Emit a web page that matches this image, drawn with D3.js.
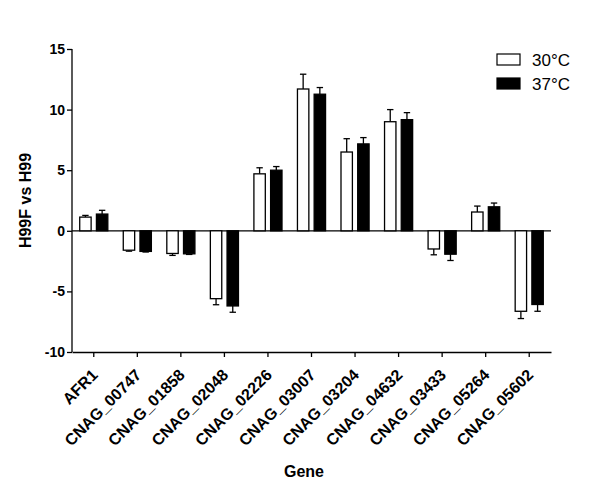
<!DOCTYPE html>
<html>
<head>
<meta charset="utf-8">
<script src="https://cdn.jsdelivr.net/npm/d3@7"></script>
<style>
  body { margin: 0; background: #fff; }
  text { font-family: "Liberation Sans", Arial, sans-serif; }
  .axis text { font-weight: bold; font-size: 14px; fill: #000; }
  .axis path, .axis line { stroke: #000; stroke-width: 1.3px; }
  .title { font-weight: bold; font-size: 16px; }
</style>
</head>
<body>
<div id="chart"></div>
<script>
var genes = ["AFR1", "CNAG_00747", "CNAG_01858", "CNAG_02048", "CNAG_02226", "CNAG_03007",
             "CNAG_03204", "CNAG_04632", "CNAG_03433", "CNAG_05264", "CNAG_05602"];
var series = ["30°C", "37°C"];
var mean30 = [1.13, -1.6, -1.87, -5.6, 4.7, 11.7, 6.5, 9.0, -1.5, 1.55, -6.64];
var err30  = [0.14, 0.08, 0.16, 0.5, 0.5, 1.22, 1.1, 1.0, 0.48, 0.49, 0.6];
var mean37 = [1.38, -1.7, -1.9, -6.2, 5.0, 11.27, 7.17, 9.17, -1.93, 1.98, -6.08];
var err37  = [0.31, 0.05, 0.05, 0.52, 0.3, 0.55, 0.52, 0.58, 0.52, 0.31, 0.56];
var yTicks = [-10, -5, 0, 5, 10, 15];

var width = 600, height = 496;
var margin = {top: 49, right: 49, bottom: 144, left: 72};

var svg = d3.select("#chart")
    .append("svg")
    .attr("width", width)
    .attr("height", height);

var x = d3.scaleBand()
    .domain(genes)
    .range([margin.left, width - margin.right]);

var y = d3.scaleLinear()
    .domain([-10, 15])
    .range([height - margin.bottom, margin.top]);

var data = genes.map(function(g, i) {
    return {gene: g, vals: [
        {s: 0, v: mean30[i], e: err30[i]},
        {s: 1, v: mean37[i], e: err37[i]}
    ]};
});

var barW = 11.4, gap = 5.3;
function barX(d, s) {
    var c = x(d) + x.bandwidth() / 2;
    return s == 0 ? c - gap / 2 - barW : c + gap / 2;
}
function errEnd(d) { return y(d.v + (d.v >= 0 ? d.e : -d.e)); }

// zero line
svg.append("line")
    .attr("x1", margin.left).attr("x2", width - margin.right)
    .attr("y1", y(0)).attr("y2", y(0))
    .attr("stroke", "#000").attr("stroke-width", 1.3);

var groups = svg.selectAll(".grp")
    .data(data).enter()
    .append("g");

var bars = groups.selectAll(".bar")
    .data(function(d) { return d.vals.map(function(v) { v.gene = d.gene; return v; }); })
    .enter();

// error bars (away from zero only)
bars.append("line")
    .attr("x1", function(d) { return barX(d.gene, d.s) + barW / 2; })
    .attr("x2", function(d) { return barX(d.gene, d.s) + barW / 2; })
    .attr("y1", function(d) { return y(d.v); })
    .attr("y2", errEnd)
    .attr("stroke", "#000").attr("stroke-width", 1.3);
bars.append("line")
    .attr("x1", function(d) { return barX(d.gene, d.s) + barW / 2 - 3.2; })
    .attr("x2", function(d) { return barX(d.gene, d.s) + barW / 2 + 3.2; })
    .attr("y1", errEnd)
    .attr("y2", errEnd)
    .attr("stroke", "#000").attr("stroke-width", 1.3);

bars.append("rect")
    .attr("x", function(d) { return barX(d.gene, d.s); })
    .attr("width", barW)
    .attr("y", function(d) { return Math.min(y(d.v), y(0)); })
    .attr("height", function(d) { return Math.abs(y(d.v) - y(0)); })
    .attr("fill", function(d) { return d.s == 0 ? "#fff" : "#000"; })
    .attr("stroke", "#000").attr("stroke-width", 1.3);

// axes
svg.append("g")
    .attr("class", "axis")
    .attr("transform", "translate(" + margin.left + ",0)")
    .call(d3.axisLeft(y).tickValues(yTicks).tickSize(5).tickPadding(2)
        .tickFormat(function(d) { return String(d); }))
    .call(function(g) { g.select(".domain").attr("d", "M0," + y(-10) + "V" + y(15)); });

var xAxis = svg.append("g")
    .attr("class", "axis")
    .attr("transform", "translate(0," + y(-10) + ")")
    .call(d3.axisBottom(x).tickSize(5).tickSizeOuter(0));
xAxis.selectAll(".tick text")
    .attr("text-anchor", "end")
    .attr("x", 0)
    .attr("y", 0)
    .attr("dy", "0.35em")
    .style("font-size", "16px")
    .attr("transform", "translate(1,20) rotate(-45)");

svg.append("text")
    .attr("class", "title")
    .attr("transform", "translate(31," + ((y(15) + y(-10)) / 2) + ") rotate(-90)")
    .attr("text-anchor", "middle")
    .text("H99F vs H99");

svg.append("text")
    .attr("class", "title")
    .attr("x", 304)
    .attr("y", 477)
    .attr("text-anchor", "middle")
    .attr("font-size", 17)
    .text("Gene");

// legend
var legend = svg.selectAll(".leg")
    .data(series).enter()
    .append("g")
    .attr("transform", function(d, i) { return "translate(497," + (54 + i * 24) + ")"; });
legend.append("rect")
    .attr("width", 23).attr("height", 11)
    .attr("fill", function(d, i) { return i == 0 ? "#fff" : "#000"; })
    .attr("stroke", "#000").attr("stroke-width", 1.2);
legend.append("text")
    .attr("x", 35).attr("y", 12)
    .attr("font-size", 17)
    .text(function(d) { return d; });
</script>
</body>
</html>
